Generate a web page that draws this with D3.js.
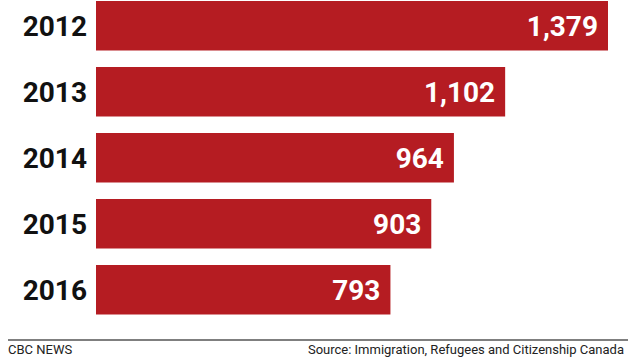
<!DOCTYPE html>
<html><head><meta charset="utf-8">
<script src="https://cdn.jsdelivr.net/npm/d3@7"></script>
<style>html,body{margin:0;padding:0;background:#fff;overflow:hidden}</style>
</head><body>
<svg id="c" width="635" height="357"></svg>
<script>
const years = ["2012","2013","2014","2015","2016"];
const values = [1379, 1102, 964, 903, 793];
const sourceText = "Source: Immigration, Refugees and Citizenship Canada";
const creditText = "CBC NEWS";

const svg = d3.select("#c");
const x = d3.scaleLinear().domain([0, 1379]).range([96, 608]);
const y = d3.scaleBand().domain(years).range([1, 314.5]).paddingInner(0.25).paddingOuter(0);

svg.selectAll("rect.bar").data(years).join("rect")
  .attr("class","bar")
  .attr("x", x(0))
  .attr("y", d => y(d))
  .attr("width", (d,i) => x(values[i]) - x(0))
  .attr("height", y.bandwidth())
  .attr("fill", "#b51c22");

const font = "Roboto, 'DejaVu Sans', sans-serif";
svg.selectAll("text.year").data(years).join("text")
  .attr("class","year")
  .attr("x", 87)
  .attr("y", d => y(d) + y.bandwidth()/2)
  .attr("dy", "0.36em")
  .attr("text-anchor","end")
  .attr("font-family", font)
  .attr("font-weight", "bold")
  .attr("font-size", 28)
  .attr("fill", "#111")
  .text(d => d);

svg.selectAll("text.val").data(years).join("text")
  .attr("class","val")
  .attr("x", (d,i) => x(values[i]) - 10)
  .attr("y", d => y(d) + y.bandwidth()/2)
  .attr("dy", "0.36em")
  .attr("text-anchor","end")
  .attr("font-family", font)
  .attr("font-weight", "bold")
  .attr("font-size", 28)
  .attr("fill", "#fff")
  .text((d,i) => d3.format(",")(values[i]));

svg.append("line")
  .attr("x1", 8).attr("x2", 628)
  .attr("y1", 340).attr("y2", 340)
  .attr("stroke", "#555").attr("stroke-width", 1.5);

svg.append("text")
  .attr("x", 8).attr("y", 354)
  .attr("font-family", font).attr("font-size", 13)
  .attr("fill", "#222")
  .text(creditText);
svg.append("text")
  .attr("x", 624).attr("y", 354)
  .attr("text-anchor","end")
  .attr("font-family", font).attr("font-size", 13)
  .attr("fill", "#222")
  .text(sourceText);
</script>
</body></html>
